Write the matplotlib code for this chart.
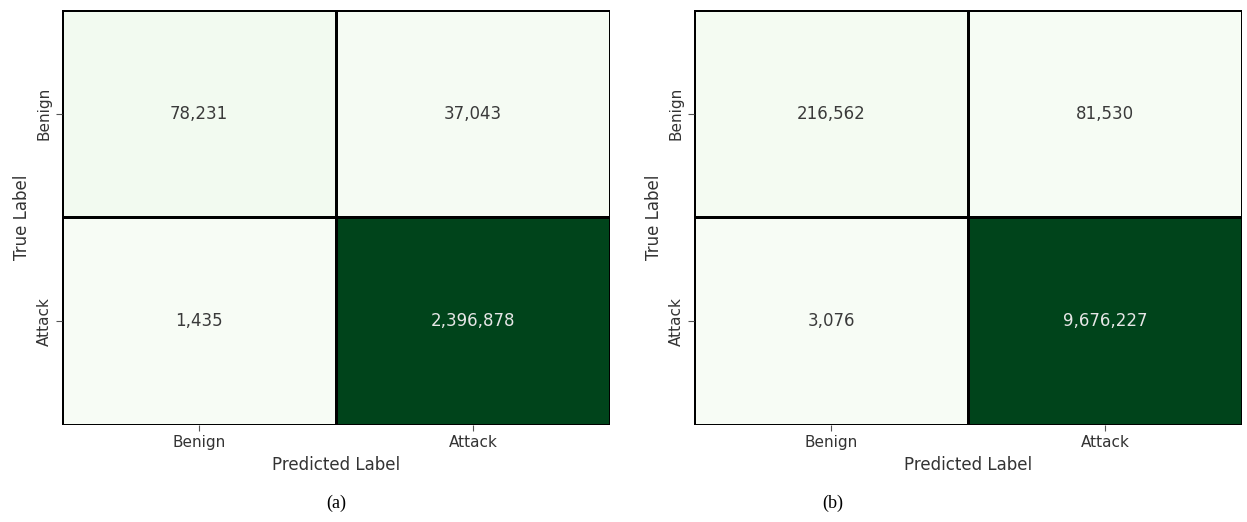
import numpy as np
import pandas as pd
import matplotlib
matplotlib.use('Agg')
import matplotlib.pyplot as plt
import seaborn as sns

labels = ['Benign', 'Attack']
cm_a = [[78231, 37043],
        [1435, 2396878]]
cm_b = [[216562, 81530],
        [3076, 9676227]]
captions = ['(a)', '(b)']

fig = plt.figure(figsize=(12.47, 5.22), dpi=100)

# axes rectangles in figure fractions (left, bottom, width, height)
rects = [[0.0497, 0.186, 0.4395, 0.795],
         [0.5565, 0.186, 0.4395, 0.795]]
cap_x = [0.270, 0.668]

for cm, rect, cap, cx in zip([cm_a, cm_b], rects, captions, cap_x):
    ax = fig.add_axes(rect)
    df = pd.DataFrame(cm, index=labels, columns=labels)
    sns.heatmap(df, ax=ax, annot=True, fmt=',', cmap='Greens', cbar=False,
                linewidths=2, linecolor='black',
                annot_kws={'fontsize': 12})
    ax.set_xlabel('Predicted Label', fontsize=12, color='#333333')
    ax.set_ylabel('True Label', fontsize=12, color='#333333')
    ax.tick_params(axis='both', labelsize=11, length=4, color='#555555',
                   labelcolor='#333333')
    ax.set_yticklabels(labels, rotation=90, va='center')
    ax.set_xticklabels(labels, rotation=0)
    for t in ax.texts:
        if matplotlib.colors.to_hex(t.get_color()) == '#ffffff':
            t.set_color('#e6e6e6')
        else:
            t.set_color('#3a3a3a')
    fig.text(cx, 0.036, cap, ha='center', va='center',
             family='Liberation Serif', fontsize=13)

fig.savefig('out.png', dpi=100)
